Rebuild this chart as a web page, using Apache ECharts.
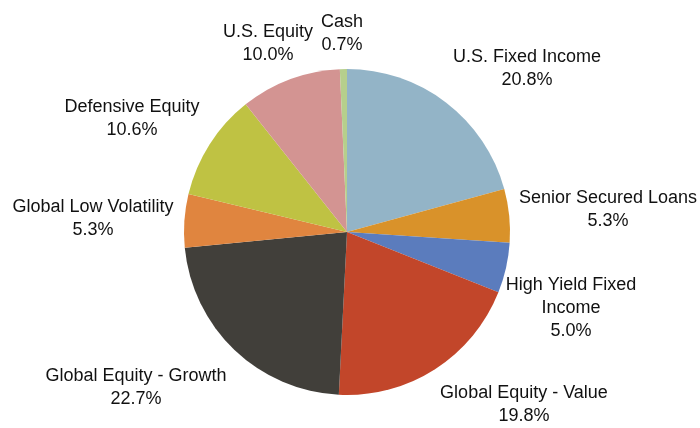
<!DOCTYPE html>
<html>
<head>
<meta charset="utf-8">
<script src="https://cdn.jsdelivr.net/npm/echarts@6/dist/echarts.min.js"></script>
<style>html,body{margin:0;padding:0;background:#fff}#c{width:700px;height:428px}</style>
</head>
<body>
<div id="c"></div>
<script>
var categories = ['U.S. Fixed Income','Senior Secured Loans','High Yield Fixed\nIncome','Global Equity - Value','Global Equity - Growth','Global Low Volatility','Defensive Equity','U.S. Equity','Cash'];
var values = [20.8, 5.3, 5.0, 19.8, 22.7, 5.3, 10.6, 10.0, 0.7];
var colors = ['#93b4c7','#d9922a','#5b7cbd','#c2462a','#413f3a','#e0853f','#bfc243','#d39492','#b6cf8c'];
var labelPos = [[527,69],[608,210],[571,308],[524,405],[136,388],[93,219],[132,119],[268,44],[342,34]];

var chart = echarts.init(document.getElementById('c'), null, {renderer:'canvas'});
chart.setOption({
  animation:false,
  series:[{
    type:'pie',
    center:[347,232],
    radius:[0,163],
    startAngle:90,
    clockwise:true,
    avoidLabelOverlap:false,
    data: categories.map(function(n,i){return {name:n,value:values[i],itemStyle:{color:colors[i]}};}),
    label:{
      show:true,
      position:'outside',
      formatter:function(p){return p.name+'\n'+p.value.toFixed(1)+'%';},
      fontFamily:'Liberation Sans, Arial',
      fontSize:18,
      lineHeight:23,
      color:'#111',
      align:'center'
    },
    labelLine:{show:false},
    labelLayout:function(p){
      var pos = labelPos[p.dataIndex];
      return {x:pos[0], y:pos[1], align:'center', verticalAlign:'middle'};
    },
    itemStyle:{borderWidth:0}
  }]
});
</script>
</body>
</html>
